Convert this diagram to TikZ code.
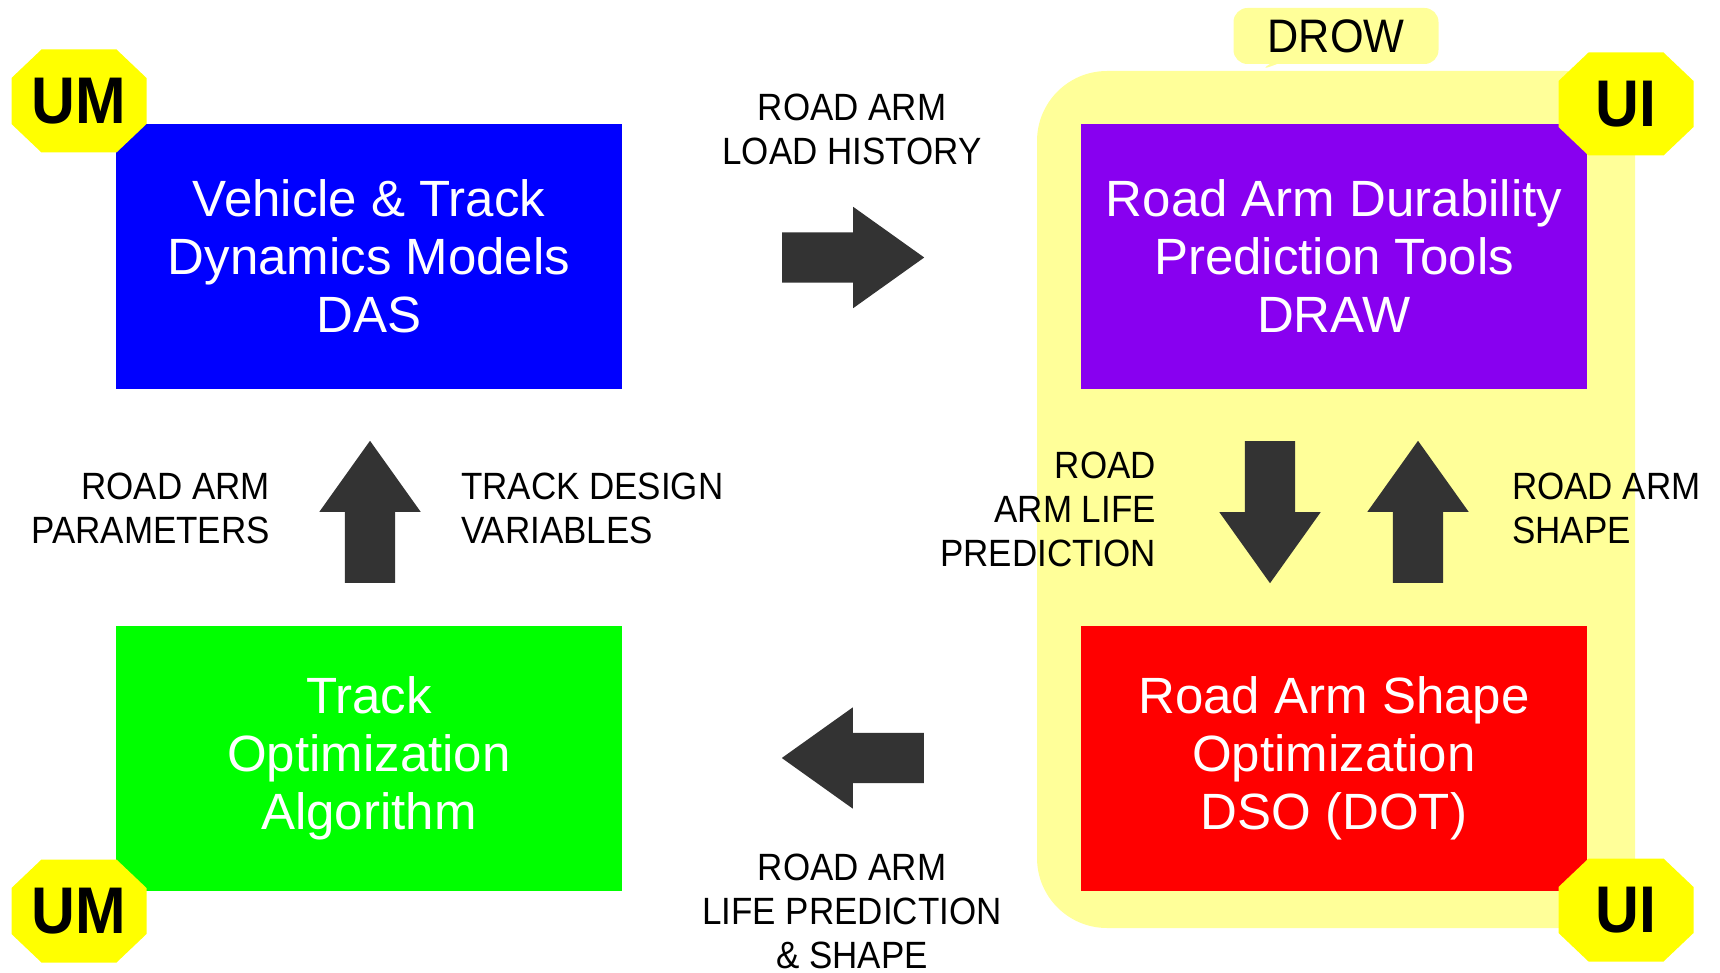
\documentclass[tikz,border=0pt]{standalone}
\usepackage{fontspec}
\setmainfont{Liberation Sans}
\newfontfamily\labelfont[FakeStretch=0.92]{Liberation Sans}
\usetikzlibrary{shapes,shapes.arrows,shapes.callouts,positioning,calc}

\definecolor{boxblue}{RGB}{0,0,255}
\definecolor{boxpurple}{RGB}{136,0,240}
\definecolor{boxgreen}{RGB}{0,255,0}
\definecolor{boxred}{RGB}{255,0,0}
\definecolor{paleyellow}{RGB}{255,255,153}
\definecolor{signyellow}{RGB}{255,255,0}
\definecolor{arrowgray}{RGB}{51,51,51}

\tikzset{
    toolbox/.style={fill=#1, text=white, minimum width=506pt, minimum height=265pt,
        align=center, inner sep=0pt, font=\fontsize{51}{58}\selectfont},
    badge/.style={inner sep=0pt, font=\labelfont\fontsize{66}{66}\selectfont\bfseries},
    flowlabel/.style={align=#1, inner sep=0pt, font=\labelfont\fontsize{38}{44}\selectfont},
    bigarrow/.style={single arrow, fill=arrowgray, minimum height=142pt, inner xsep=0pt, inner ysep=25pt,
        single arrow head extend=25.5pt, single arrow tip angle=71, rotate=#1, anchor=tail}
}

% yellow octagon badge: centre, name, text
\newcommand{\badgeat}[3]{%
    \fill[signyellow] (#1) ++(-37.5,-51.5) -- ++(75,0) -- ++(30,28.5) -- ++(0,46) -- ++(-30,28.5)
        -- ++(-75,0) -- ++(-30,-28.5) -- ++(0,-46) -- cycle;
    \node[badge] (#2) at (#1) {#3};
}

\begin{document}
\begin{tikzpicture}[x=1pt, y=-1pt]
    \useasboundingbox (0,0) rectangle (1720,973);

    % DROW zone
    \node[fill=paleyellow, rounded corners=70pt, minimum width=598pt, minimum height=857pt] (drowzone) at (1336,499.5) {};
    \node[rectangle callout, fill=paleyellow, rounded corners=14pt, minimum width=205pt, minimum height=56pt,
        inner sep=0pt, callout absolute pointer={(1258,71)}, font=\labelfont\fontsize{47}{47}\selectfont] (drowtag) at (1336,36) {DROW};

    % Tool boxes
    \node[toolbox=boxblue] (das) at (369,256.5) {Vehicle \& Track\\Dynamics Models\\DAS};
    \node[toolbox=boxpurple] (draw) at (1334,256.5) {Road Arm Durability\\Prediction Tools\\DRAW};
    \node[toolbox=boxgreen] (track) at (369,758) {Track\\Optimization\\Algorithm};
    \node[toolbox=boxred] (dso) at (1334,758) {Road Arm Shape\\Optimization\\DSO (DOT)};

    % Block arrows (placed by their tails)
    \node[bigarrow=0] (loadarrow) at (782,257.5) {};
    \node[bigarrow=180] (feedarrow) at (924,758) {};
    \node[bigarrow=90] (paramarrow) at (370,583) {};
    \node[bigarrow=270] (lifearrow) at (1270,441) {};
    \node[bigarrow=90] (shapearrow) at (1418,583) {};

    % Labels
    \node[flowlabel=center] (loadlabel) at (852,129) {ROAD ARM\\LOAD HISTORY};
    \node[flowlabel=right, anchor=east] (paramlabel) at (270,508) {ROAD ARM\\PARAMETERS};
    \node[flowlabel=left, anchor=west] (designlabel) at (461,508) {TRACK DESIGN\\VARIABLES};
    \node[flowlabel=right, anchor=east] (lifelabel) at (1156,509) {ROAD\\ARM LIFE\\PREDICTION};
    \node[flowlabel=left, anchor=west] (shapelabel) at (1512,508) {ROAD ARM\\SHAPE};
    \node[flowlabel=center] (feedlabel) at (852,911) {ROAD ARM\\LIFE PREDICTION\\\& SHAPE};

    % Badges
    \badgeat{79,101}{umtop}{UM}
    \badgeat{79,911}{umbottom}{UM}
    \badgeat{1626,104}{uitop}{UI}
    \badgeat{1626,910}{uibottom}{UI}
\end{tikzpicture}
\end{document}
